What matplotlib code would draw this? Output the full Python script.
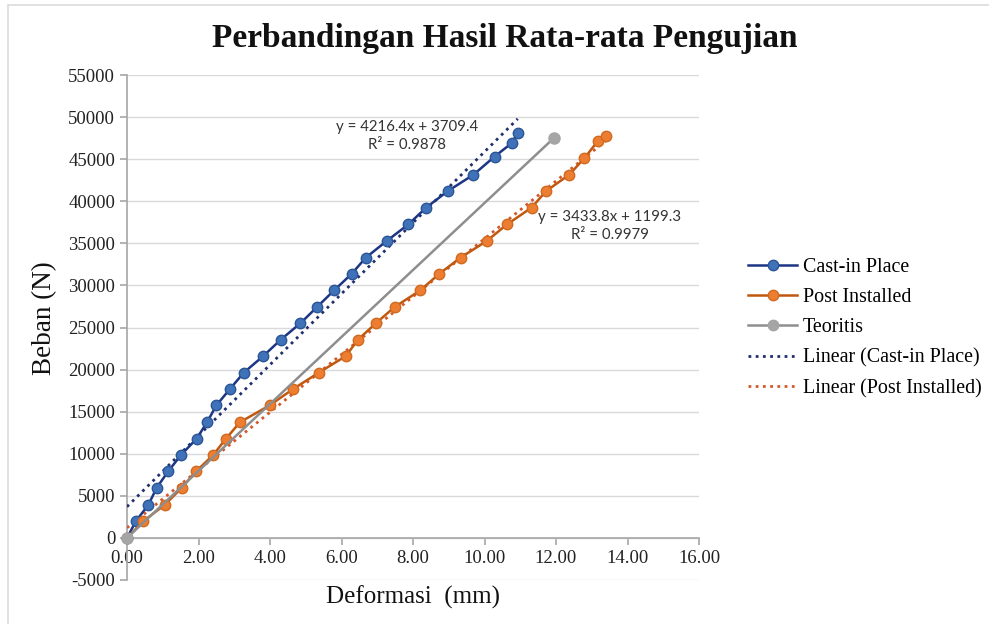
import matplotlib
matplotlib.use("Agg")
import matplotlib.pyplot as plt
from matplotlib.lines import Line2D
from matplotlib.patches import Rectangle
import numpy as np

# Average load-deformation results
cast_x = [0.00, 0.25, 0.60, 0.83, 1.15, 1.51, 1.95, 2.24, 2.50, 2.88, 3.27, 3.81, 4.30,
          4.85, 5.32, 5.79, 6.29, 6.68, 7.27, 7.87, 8.37, 8.97, 9.69, 10.28, 10.76, 10.93]
cast_y = [0, 2000, 3950, 5950, 7900, 9850, 11800, 13750, 15750, 17700, 19650, 21600, 23550,
          25500, 27450, 29400, 31400, 33300, 35300, 37250, 39250, 41200, 43150, 45300, 46900, 48100]

post_x = [0.00, 0.46, 1.06, 1.53, 1.93, 2.41, 2.77, 3.16, 3.99, 4.65, 5.37, 6.12, 6.46,
          6.96, 7.49, 8.20, 8.74, 9.33, 10.07, 10.63, 11.32, 11.72, 12.37, 12.79, 13.18, 13.40]
post_y = [0, 2000, 3950, 5950, 7900, 9850, 11800, 13750, 15750, 17700, 19650, 21600, 23550,
          25500, 27450, 29400, 31400, 33300, 35300, 37250, 39250, 41200, 43150, 45100, 47200, 47700]

teori_x = [0.00, 11.95]
teori_y = [0, 47550]

# Linear trend coefficients (slope, intercept, R²)
cast_fit = (4216.4, 3709.4, 0.9878)
post_fit = (3433.8, 1199.3, 0.9979)

x_ticks = [0, 2, 4, 6, 8, 10, 12, 14, 16]
y_ticks = list(range(-5000, 55001, 5000))

W, H = 989, 624
fig = plt.figure(figsize=(W / 100, H / 100), dpi=100)
fig.patch.set_facecolor("white")
fig.patches.append(Rectangle((8 / W, -0.02), 1.05, (H - 5) / H + 0.02,
                             transform=fig.transFigure, fill=False,
                             edgecolor="#dcdcdc", lw=1.2))

ax = fig.add_axes([127 / W, 1 - 580 / H, (699 - 127) / W, (580 - 75) / H])

serif = "Liberation Serif"
c_blue_line, c_blue_mk, c_blue_edge = "#1c3585", "#3f72b8", "#2b5597"
c_or_line, c_or_mk, c_or_edge = "#c0580f", "#ed7d31", "#d06a20"
c_gray_line, c_gray_mk = "#8e8e8e", "#a5a5a5"
c_blue_trend, c_or_trend = "#1f2f6e", "#d4582a"

# Trend lines
tx_c = np.array([0, max(cast_x)])
tx_p = np.array([0, max(post_x)])
ax.plot(tx_c, cast_fit[0] * tx_c + cast_fit[1], ls=(0, (1, 1.6)), lw=2.0,
        color=c_blue_trend, zorder=3)
ax.plot(tx_p, post_fit[0] * tx_p + post_fit[1], ls=(0, (1, 1.6)), lw=2.0,
        color=c_or_trend, zorder=3)

# Data series
ax.plot(cast_x, cast_y, "-o", color=c_blue_line, lw=1.8, ms=7.5,
        mfc=c_blue_mk, mec=c_blue_edge, mew=1.0, zorder=4, clip_on=False)
ax.plot(post_x, post_y, "-o", color=c_or_line, lw=1.8, ms=7.5,
        mfc=c_or_mk, mec=c_or_edge, mew=1.0, zorder=4, clip_on=False)
ax.plot(teori_x, teori_y, "-o", color=c_gray_line, lw=1.8, ms=8,
        mfc=c_gray_mk, mec=c_gray_mk, mew=1.0, zorder=5, clip_on=False)

ax.set_xlim(0, 16)
ax.set_ylim(-5000, 55000)
ax.set_xticks(x_ticks)
ax.set_xticklabels([f"{v:.2f}" for v in x_ticks])
ax.set_yticks(y_ticks)
ax.set_yticklabels([str(v) for v in y_ticks])
ax.grid(axis="y", color="#d9d9d9", lw=1.0)
ax.set_axisbelow(True)

for s in ("top", "right"):
    ax.spines[s].set_visible(False)
ax.spines["bottom"].set_position(("data", 0))
ax.spines["bottom"].set_color("#a6a6a6")
ax.spines["left"].set_color("#a6a6a6")
ax.spines["bottom"].set_linewidth(1.2)
ax.spines["left"].set_linewidth(1.2)
ax.tick_params(axis="both", colors="#a6a6a6", length=5, width=1.2, direction="out")
ax.tick_params(axis="both", labelcolor="#222222", labelsize=13.5)
for lab in ax.get_xticklabels() + ax.get_yticklabels():
    lab.set_fontfamily(serif)

fig.text(45 / W, 1 - 318 / H, "Beban (N)", rotation=90, ha="center", va="center",
         family=serif, fontsize=19.5, color="#111111")
fig.text(413 / W, 1 - 597 / H, "Deformasi  (mm)", ha="center", va="center",
         family=serif, fontsize=18, color="#111111")
fig.text(505 / W, 1 - 39 / H, "Perbandingan Hasil Rata-rata Pengujian", ha="center",
         va="center", family=serif, fontweight="bold", fontsize=24, color="#111111")

# Trend equations
fig.text(407 / W, 1 - 136 / H,
         f"y = {cast_fit[0]}x + {cast_fit[1]}\nR² = {cast_fit[2]}",
         ha="center", va="center", multialignment="center", family="Lato",
         fontsize=10.8, color="#333333", linespacing=1.3)
fig.text(610 / W, 1 - 226 / H,
         f"y = {post_fit[0]}x + {post_fit[1]}\nR² = {post_fit[2]}",
         ha="center", va="center", multialignment="center", family="Lato",
         fontsize=10.8, color="#333333", linespacing=1.3)

handles = [
    Line2D([], [], color=c_blue_line, lw=1.8, marker="o", ms=7.5, mfc=c_blue_mk, mec=c_blue_edge),
    Line2D([], [], color=c_or_line, lw=1.8, marker="o", ms=7.5, mfc=c_or_mk, mec=c_or_edge),
    Line2D([], [], color=c_gray_line, lw=1.8, marker="o", ms=7.5, mfc=c_gray_mk, mec=c_gray_mk),
    Line2D([], [], color=c_blue_trend, lw=2.0, ls=(0, (1, 1.6))),
    Line2D([], [], color=c_or_trend, lw=2.0, ls=(0, (1, 1.6))),
]
labels = ["Cast-in Place", "Post Installed", "Teoritis",
          "Linear (Cast-in Place)", "Linear (Post Installed)"]
fig.legend(handles, labels, loc="center left", bbox_to_anchor=(730 / W, 1 - 328 / H),
           frameon=False, numpoints=1, handlelength=2.45, handletextpad=0.3,
           labelspacing=0.56, prop={"family": serif, "size": 14.4})

fig.savefig("out.png", dpi=100, facecolor="white")
